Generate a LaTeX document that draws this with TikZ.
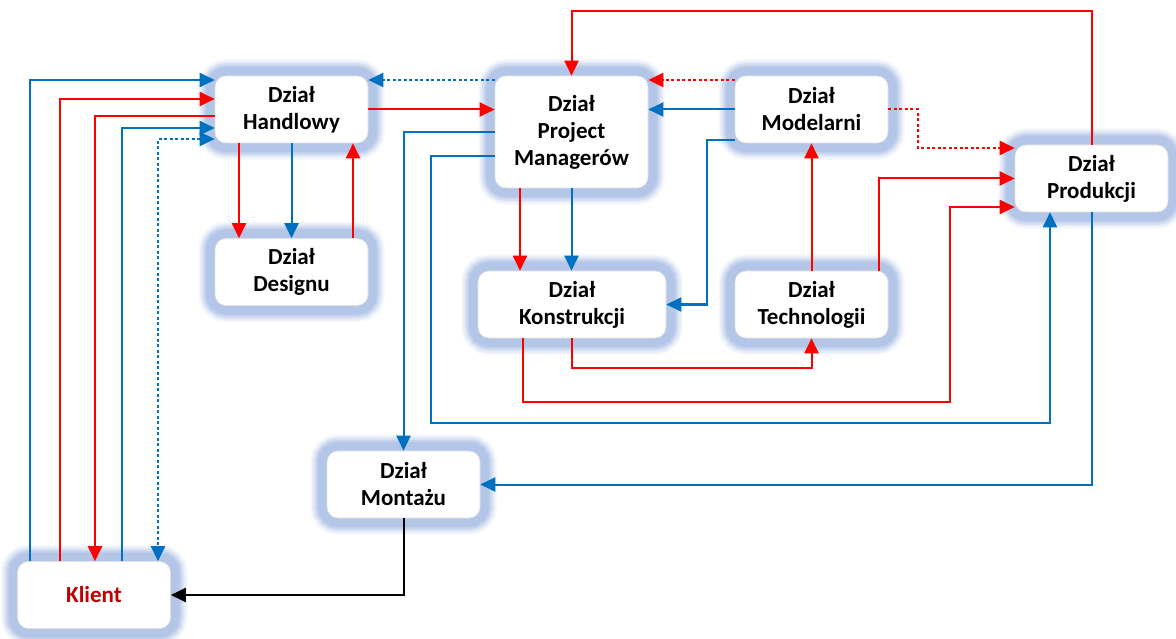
\documentclass[tikz,border=0pt]{standalone}
\usepackage{fontspec}
\setmainfont{Carlito}
\usepackage{tikz}
\usetikzlibrary{arrows.meta}

\definecolor{halo}{RGB}{180,198,231}
\definecolor{blu}{RGB}{0,112,192}
\definecolor{rd}{RGB}{255,0,0}
\definecolor{klientc}{RGB}{192,0,0}

\begin{document}
\begin{tikzpicture}[x=1pt, y=-1pt,
  >={Triangle[length=15pt,width=14pt]},
  dzial/.style={draw=black!12, line width=0.6pt, fill=white, rounded corners=11pt,
    align=center, font=\fontsize{23}{27}\selectfont\bfseries,
    minimum width=153pt, minimum height=67pt, inner sep=0pt,
    preaction={draw=halo!12, line width=34pt},
    preaction={draw=halo!30, line width=30pt},
    preaction={draw=halo!55, line width=26pt},
    preaction={draw=halo!80, line width=22pt},
    preaction={draw=halo, line width=18pt}},
  flow/.style={line width=2pt, ->},
  rline/.style={flow, rd},
  bline/.style={flow, blu},
  kropki/.style={dash pattern=on 3pt off 2.5pt}]
 \useasboundingbox (0,0) rectangle (1176,639);

 \node[dzial] (handel) at (291.5,109.5) {Dział\\Handlowy};
 \node[dzial] (design) at (291.5,272) {Dział\\Designu};
 \node[dzial, minimum height=112pt] (pm) at (571.5,132) {Dział\\Project\\Managerów};
 \node[dzial] (model) at (811.5,109.5) {Dział\\Modelarni};
 \node[dzial] (prod) at (1091.5,178.5) {Dział\\Produkcji};
 \node[dzial, minimum width=188pt] (konstr) at (572,304.5) {Dział\\Konstrukcji};
 \node[dzial] (techno) at (811.5,304.5) {Dział\\Technologii};
 \node[dzial] (montaz) at (403.5,484.5) {Dział\\Montażu};
 \node[dzial, text=klientc] (klient) at (94,595) {Klient};

 % klient <-> handel
 \draw[bline] (klient.north -| 30,0) |- (handel.west |- 0,80);
 \draw[rline] (klient.north -| 60,0) |- (handel.west |- 0,99);
 \draw[rline] (handel.west |- 0,116) -| (klient.north -| 95,0);
 \draw[bline] (klient.north -| 122,0) |- (handel.west |- 0,128);
 \draw[bline, kropki, <->] (handel.west |- 0,139) -| (klient.north -| 158,0);

 % handel <-> design
 \draw[rline] (handel.south -| 239,0) -- (design.north -| 239,0);
 \draw[bline] (handel.south) -- (design.north);
 \draw[rline] (design.north -| 353,0) -- (handel.south -| 353,0);

 % handel <-> pm
 \draw[rline] (handel.east) -- (pm.west |- handel.east);
 \draw[bline, kropki] (pm.west |- 0,80) -- (handel.east |- 0,80);

 % model
 \draw[rline, kropki] (model.west |- 0,80) -- (pm.east |- 0,80);
 \draw[bline] (model.west) -- (pm.east |- model.west);
 \draw[bline] (model.west |- 0,140) -| (konstr.east -| 707,0) -- (konstr.east);
 \draw[rline, kropki] (model.east) -| (918,148) -- (prod.west |- 0,148);

 % prod -> pm
 \draw[rline] (prod.north) -- (prod.north |- 0,11) -| (pm.north);

 % techno
 \draw[rline] (techno.north) -- (model.south);
 \draw[rline] (techno.north -| 879,0) |- (prod.west);

 % konstr
 \draw[rline] (konstr.south -| 523,0) |- (950,402) |- (prod.west |- 0,207);
 \draw[rline] (konstr.south) |- (techno.south |- 0,368) -- (techno.south);

 % pm
 \draw[rline] (pm.south -| 520,0) -- (konstr.north -| 520,0);
 \draw[bline] (pm.south) -- (konstr.north -| pm.south);
 \draw[bline] (pm.west) -| (montaz.north);
 \draw[bline] (pm.west |- 0,156) -| (431,423) -| (prod.south -| 1050,0);

 % montaz
 \draw[bline] (prod.south) |- (montaz.east);
 \draw[flow] (montaz.south) |- (klient.east);
\end{tikzpicture}
\end{document}
